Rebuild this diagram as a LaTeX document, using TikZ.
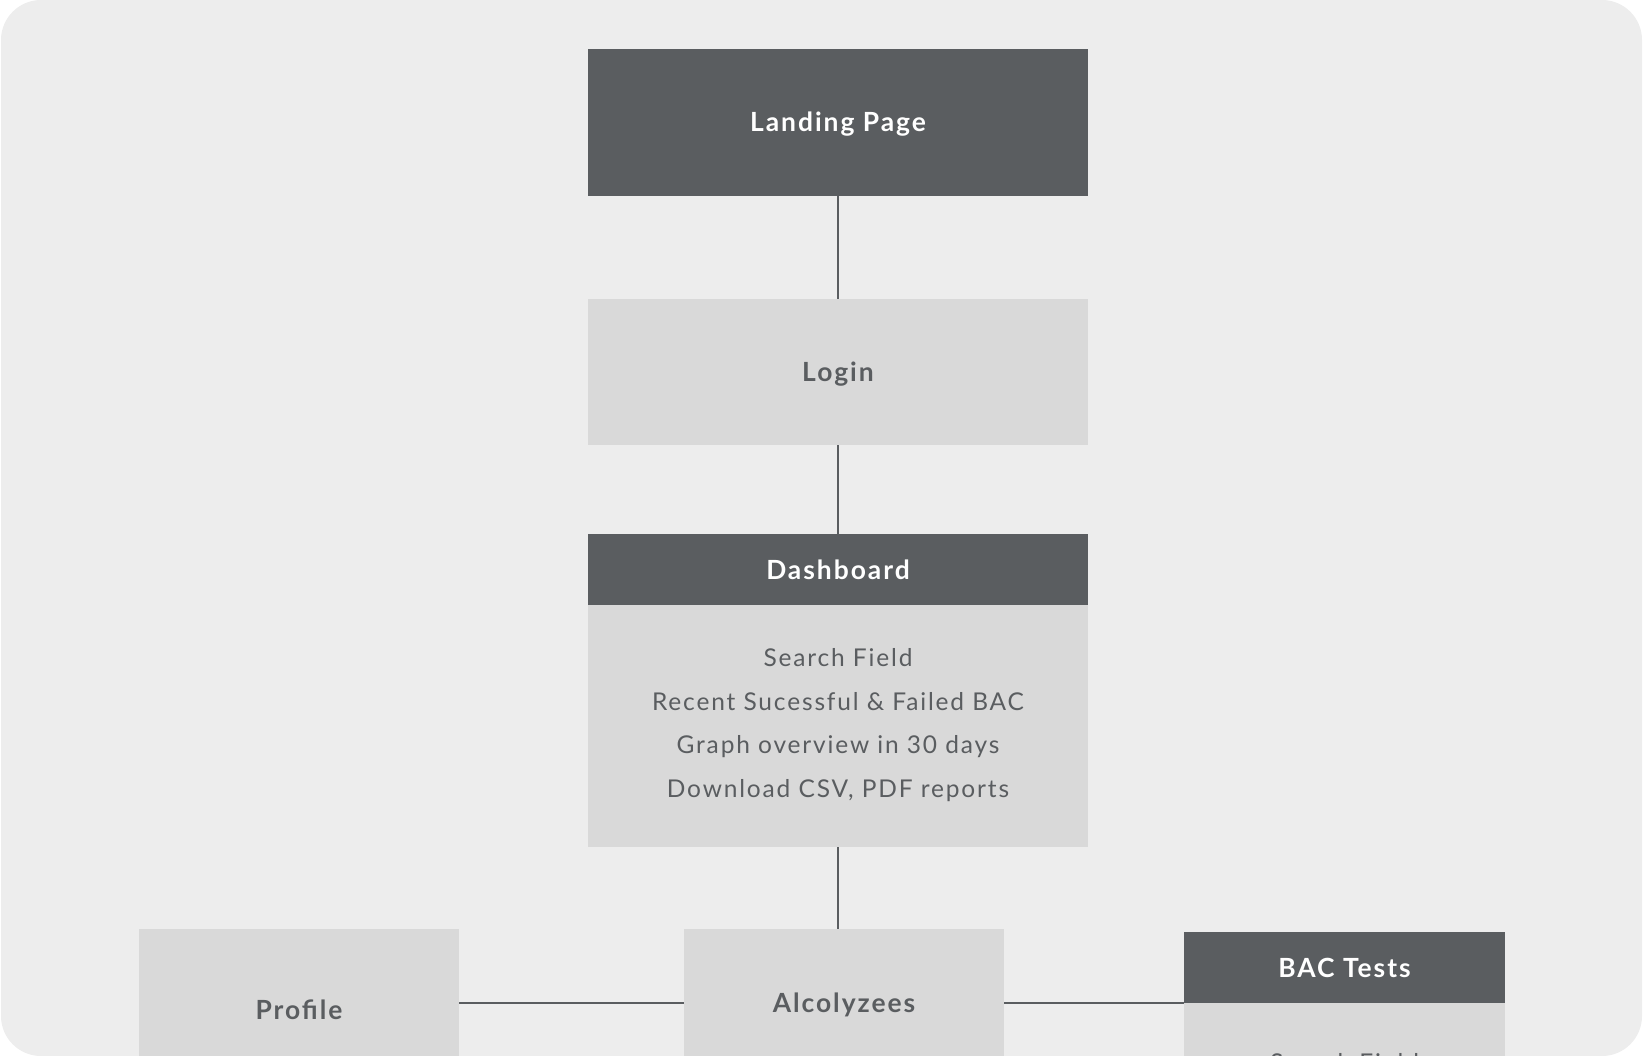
\documentclass[tikz,border=0pt]{standalone}
\usepackage{fontspec}
\setmainfont{Lato}[LetterSpace=7.5]
\usetikzlibrary{calc}
\definecolor{slate}{HTML}{5A5D60}
\definecolor{paper}{HTML}{EDEDED}
\definecolor{pale}{HTML}{D9D9D9}
\tikzset{
	darkbox/.style={fill=slate, text=white, inner sep=0pt, minimum width=500pt, text height=19pt, text depth=0pt, font=\fontsize{26.4}{30}\selectfont\bfseries},
	palebox/.style={fill=pale, text=slate, inner sep=0pt, minimum width=500pt, text height=19pt, text depth=0pt, font=\fontsize{26.4}{30}\selectfont\bfseries},
	itemtext/.style={text=slate, inner sep=0pt, align=center, font=\fontsize{24.5}{43.5}\selectfont},
	link/.style={draw=slate, line width=2.6pt},
}

\begin{document}
\begin{tikzpicture}[x=1pt, y=-1pt]
		%%%%% START %%%%%
		
		\useasboundingbox (0, 0) rectangle (1643, 1056);
		\fill[paper, rounded corners=40pt] (1, 0) rectangle (1642, 1056);
		
		\begin{scope}
		\clip (0, 0) rectangle (1643, 1056);
		
		\node[darkbox, minimum height=147pt] (landing) at (838, 122.5) {Landing Page};
		\node[palebox, minimum height=146pt] (login) at (838, 372) {Login};
		
		\node[darkbox, minimum height=71pt] (dashhead) at (838, 569.5) {Dashboard};
		\node[palebox, minimum height=242pt] (dashbody) at (838, 726) {};
		\node[itemtext] (dashitems) at (838, 725) {Search Field\\Recent Sucessful \& Failed BAC\\Graph overview in 30 days\\Download CSV, PDF reports};
		
		\node[palebox, minimum width=320pt, minimum height=162pt] (profile) at (299, 1010) {Profile};
		\node[palebox, minimum width=320pt, minimum height=148pt] (alco) at (844, 1003) {Alcolyzees};
		
		\node[darkbox, minimum width=321pt, minimum height=71pt] (bachead) at (1344.5, 967.5) {BAC Tests};
		\node[palebox, minimum width=321pt, minimum height=200pt, anchor=north] (bacbody) at (bachead.south) {};
		\node[itemtext] (bacsearch) at (1344.5, 1063) {Search Field};
		
		\draw[link] (landing) -- (login);
		\draw[link] (login) -- (dashhead);
		\draw[link] (dashbody.south) -- (dashbody.south |- alco.north);
		\draw[link] (alco.west) -- (alco.west -| profile.east);
		\draw[link] (alco.east) -- (alco.east -| bachead.west);
		\end{scope}
		
		%%%%% END %%%%%
	\end{tikzpicture}
\end{document}
